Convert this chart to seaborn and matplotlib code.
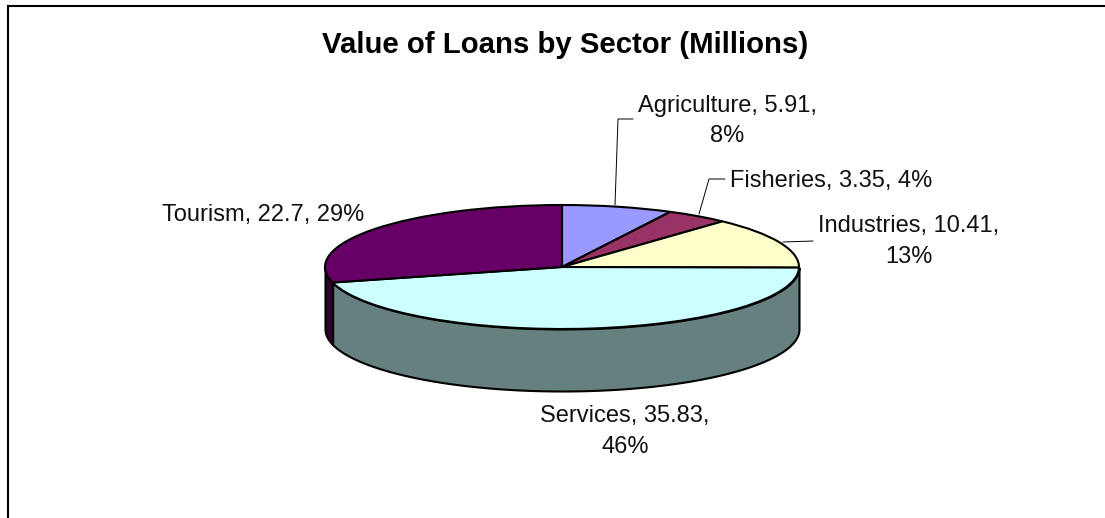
import numpy as np
import matplotlib
matplotlib.use("Agg")
import matplotlib.pyplot as plt
import seaborn as sns

sectors = ["Agriculture", "Fisheries", "Industries", "Services", "Tourism"]
loans = [5.91, 3.35, 10.41, 35.83, 22.7]
top_colors = ["#9999FF", "#993366", "#FFFFCC", "#CCFFFF", "#660066"]
side_colors = ["#4C4C7F", "#4C1933", "#7F7F66", "#667F7F", "#330033"]
label_separators = [",\n", ", ", ",\n", ",\n", ", "]

sns.set_theme(style="white")
plt.rcParams["font.family"] = ["Liberation Sans", "DejaVu Sans"]

WIDTH, HEIGHT = 1105, 518
CX, CY, RX, RY = 562.0, 267.0, 237.0, 62.0
DEPTH = 1.0  # wall height, in units of the vertical radius
LEFT, TOP = 8.0, 5.7


def ux(px):
    return (px - CX) / RX


def uy(py):
    return (CY - py) / RY


fig = plt.figure(figsize=(WIDTH / 100, HEIGHT / 100), dpi=100, facecolor="white")
ax = fig.add_axes([LEFT / WIDTH, 0, 1 - LEFT / WIDTH, 1 - TOP / HEIGHT])

palette = sns.color_palette(top_colors)
total = sum(loans)
edges = 90 - 360 * np.cumsum([0] + loans) / total

# Outer wall of the disc: only the arc on the front half of the ellipse shows
for start, end, color in zip(edges[:-1], edges[1:], side_colors):
    a, b = max(start, -180), max(end, -180)
    if start > 0 or a <= b:
        continue
    theta = np.radians(np.linspace(a, b, 120))
    x = np.cos(theta)
    y = np.sin(theta)
    ax.fill_between(x, y, y - DEPTH, facecolor=color, edgecolor="black", linewidth=1.5, zorder=1)

ax.pie(
    loans,
    colors=palette,
    startangle=90,
    counterclock=False,
    radius=1.0,
    wedgeprops={"edgecolor": "black", "linewidth": 1.5, "zorder": 2},
)

ax.set_aspect("auto")
ax.set_xlim(ux(LEFT), ux(WIDTH))
ax.set_ylim(uy(HEIGHT), uy(TOP))
ax.set_frame_on(True)
for side, spine in ax.spines.items():
    spine.set_visible(side in ("left", "top"))
    spine.set_color("black")
    spine.set_linewidth(1.5)

ax.text(ux(565), uy(53), "Value of Loans by Sector (Millions)", ha="center", va="baseline",
        fontsize=21.2, fontweight="bold", color="black")

# Label anchors: horizontal centre and baseline of the last line
label_anchors = [(727, 142.5), (831, 187), (909, 263), (625, 453), (263.5, 221)]
for name, value, sep, (lx, ly) in zip(sectors, loans, label_separators, label_anchors):
    share = round(100 * value / total)
    ax.text(ux(lx), uy(ly), f"{name}, {value:g}{sep}{share}%", ha="center", va="baseline",
            multialignment="center", fontsize=17, color="#111111", linespacing=1.52, zorder=4)

leaders = [
    [(615, 205), (618, 119), (633, 119)],
    [(699, 214), (709, 179), (725, 179)],
    [(783, 242), (813, 241)],
]
for path in leaders:
    xs, ys = zip(*path)
    ax.plot(ux(np.array(xs)), uy(np.array(ys)), color="black", linewidth=0.7, zorder=3,
            scalex=False, scaley=False)

fig.savefig("out.png", dpi=100, facecolor="white")
